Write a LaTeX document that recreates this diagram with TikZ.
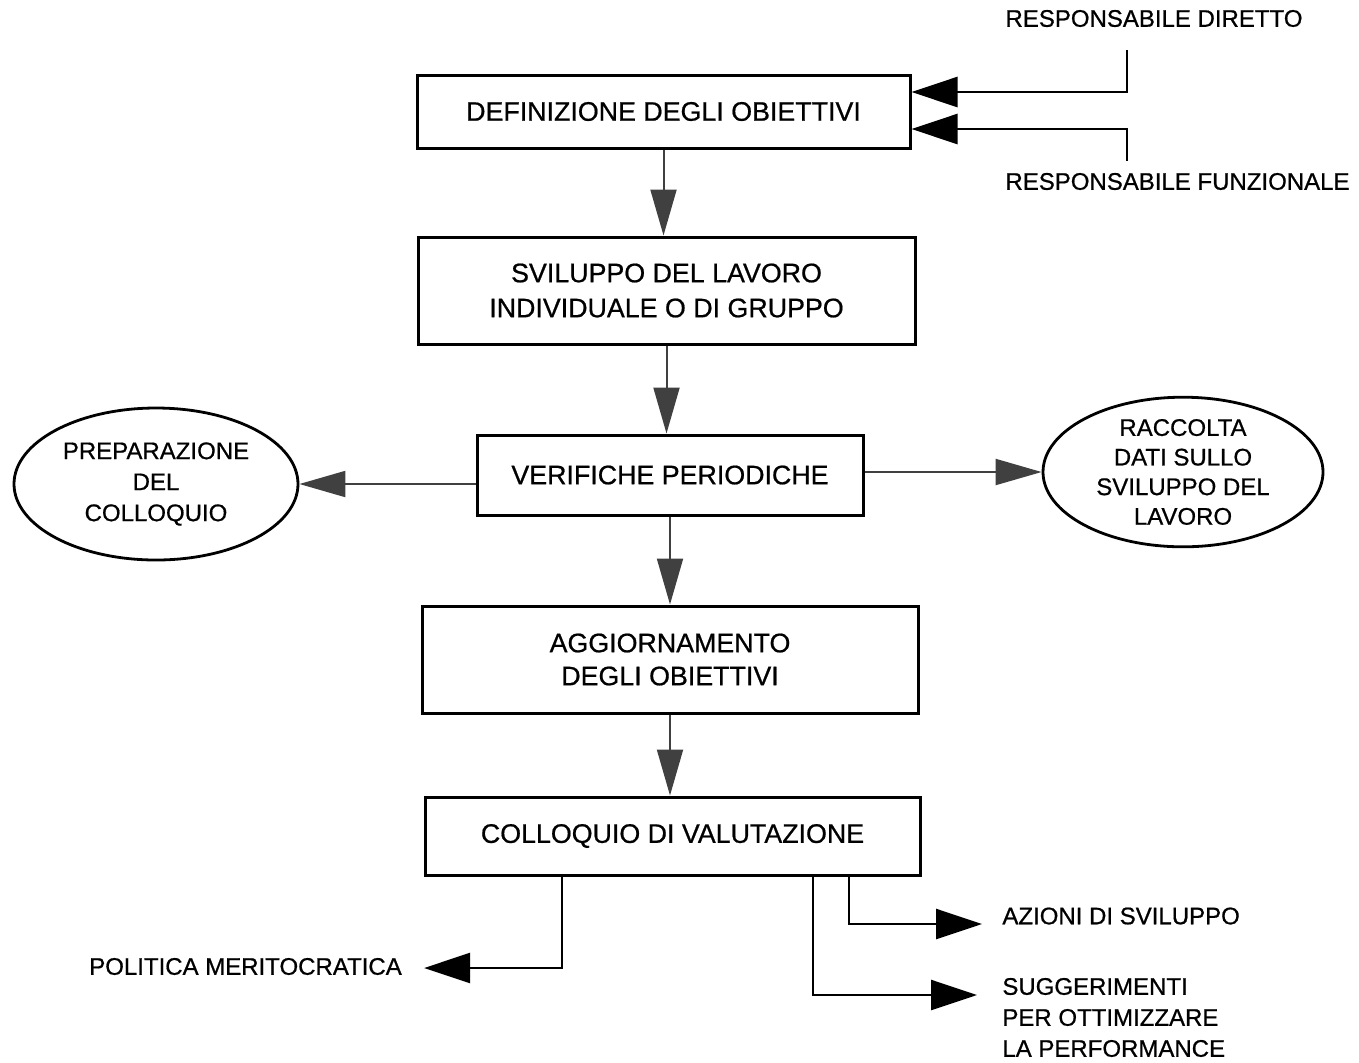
\documentclass[tikz,border=0pt]{standalone}
\usepackage{fontspec}
\newfontfamily\arialf[FakeBold=0.7]{Liberation Sans}
\usetikzlibrary{shapes.geometric,arrows.meta}
\begin{document}
\begin{tikzpicture}[x=0.5pt,y=-0.5pt,
  box/.style={draw, line width=1.5pt, rectangle, inner sep=0pt, align=center,
              font=\arialf\fontsize{13.4}{17.5}\selectfont},
  oval/.style={draw, ellipse, line width=1.4pt, inner sep=0pt, align=center,
              font=\arialf\fontsize{12}{15.5}\selectfont},
  lab/.style={inner sep=0pt, align=left, font=\arialf\fontsize{12}{15.3}\selectfont},
  flow/.style={line width=1pt, draw=black!75, fill=black!75,
               -{Triangle[length=23pt,width=13pt]}},
  link/.style={line width=1.3pt, -{Triangle[length=23pt,width=15pt]}}]
\useasboundingbox (0,0) rectangle (1359,1062);

% main boxes
\node[box, minimum width=246.5pt, minimum height=36.5pt] (b1) at (663.5,111.5) {DEFINIZIONE DEGLI OBIETTIVI};
\node[box, minimum width=248.5pt, minimum height=53.5pt] (b2) at (666.5,290.5) {SVILUPPO DEL LAVORO\\INDIVIDUALE O DI GRUPPO};
\node[box, minimum width=193pt, minimum height=40pt] (b3) at (670,475) {VERIFICHE PERIODICHE};
\node[box, minimum width=248pt, minimum height=53.5pt,
      font=\arialf\fontsize{13.4}{16.5}\selectfont] (b4) at (670,659.5) {AGGIORNAMENTO\\DEGLI OBIETTIVI};
\node[box, minimum width=247.5pt, minimum height=39pt] (b5) at (672.5,836) {COLLOQUIO DI VALUTAZIONE};

% ellipses
\node[oval, minimum width=142pt, minimum height=76pt] (eL) at (156,484) {PREPARAZIONE\\DEL\\COLLOQUIO};
\node[oval, minimum width=140pt, minimum height=74pt,
      font=\arialf\fontsize{12}{14.8}\selectfont] (eR) at (1183,472) {RACCOLTA\\DATI SULLO\\SVILUPPO DEL\\LAVORO};

% labels
\node[lab] (rdl) at (1154,18.5) {RESPONSABILE DIRETTO};
\node[lab] (rfl) at (1177.5,181.5) {RESPONSABILE FUNZIONALE};
\node[lab] (pol) at (245.5,966.5) {POLITICA MERITOCRATICA};
\node[lab, anchor=west] (azl) at (1002,916) {AZIONI DI SVILUPPO};
\node[lab, anchor=west, font=\arialf\fontsize{12}{15.5}\selectfont] (sug) at (1002,1017.5) {SUGGERIMENTI\\PER OTTIMIZZARE\\LA PERFORMANCE};

% vertical flow
\draw[flow] (b1) -- (b1 |- b2.north);
\draw[flow] (b2) -- (b2 |- b3.north);
\draw[flow] (b3) -- (b3 |- b4.north);
\draw[flow] (b4) -- (b4 |- b5.north);

% side arrows from verifiche
\draw[flow] (b3.west |- eL.east) -- (eL.east);
\draw[flow] (b3.east |- eR.west) -- (eR.west);

% responsabili
\coordinate (rd) at (1127,50);
\coordinate (rdk) at (1127,92);
\coordinate (rf) at (1127,161);
\coordinate (rfk) at (1127,129);
\draw[link] (rd) -- (rdk) -- (rdk -| b1.east);
\draw[link] (rf) -- (rfk) -- (rfk -| b1.east);

% bottom outputs
\coordinate (pm) at (562,968);
\coordinate (az) at (849,924);
\coordinate (sg) at (813,995);
\draw[link, shorten >=11pt] (b5.south -| pm) -- (pm) -- (pm -| pol.east);
\draw[link, shorten >=10pt] (b5.south -| az) -- (az) -- (az -| azl.west);
\draw[link, shorten >=12.5pt] (b5.south -| sg) -- (sg) -- (sg -| sug.west);
\end{tikzpicture}
\end{document}
